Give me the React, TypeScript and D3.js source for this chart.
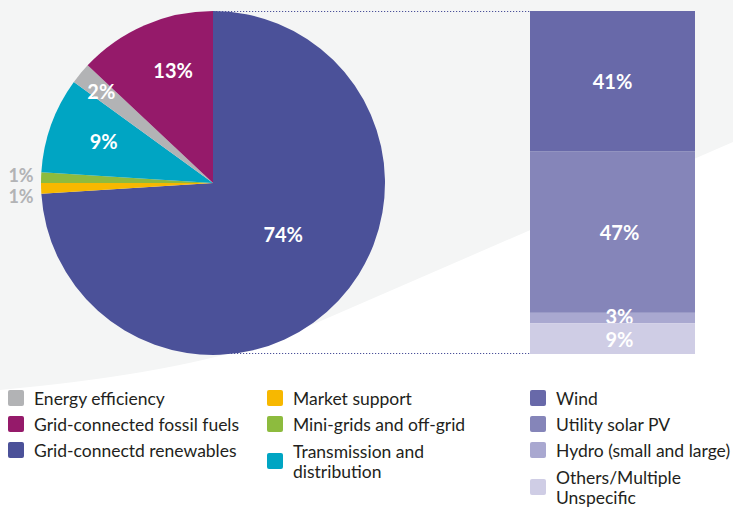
import React, { useRef, useEffect } from 'react';
import * as d3 from 'd3';

// pie: clockwise from 12 o'clock
const pieCategories = [
  'Grid-connectd renewables',
  'Market support',
  'Mini-grids and off-grid',
  'Transmission and distribution',
  'Energy efficiency',
  'Grid-connected fossil fuels',
];
const pieValues = [74, 1, 1, 9, 2, 13];
const pieColors = ['#4b5199', '#f7b800', '#8dbb3e', '#00a5c3', '#b2b3b5', '#951a6a'];

// breakdown of renewables, top to bottom
const barCategories = ['Wind', 'Utility solar PV', 'Hydro (small and large)', 'Others/Multiple Unspecific'];
const barValues = [41, 47, 3, 9];
const barColors = ['#6869a9', '#8585b9', '#a9a8d0', '#cfcde5'];

// legend columns
const legendCols = [
  ['Energy efficiency', 'Grid-connected fossil fuels', 'Grid-connectd renewables'],
  ['Market support', 'Mini-grids and off-grid', 'Transmission and distribution'],
  ['Wind', 'Utility solar PV', 'Hydro (small and large)', 'Others/Multiple Unspecific'],
];

const W = 733, H = 510;

export default function App() {
  const svgRef = useRef<SVGSVGElement>(null);

  useEffect(() => {
    const svg = d3.select(svgRef.current as SVGSVGElement);
    svg.selectAll('*').remove();

    const colorOf = (name: string) => {
      const i = pieCategories.indexOf(name);
      if (i >= 0) return pieColors[i];
      return barColors[barCategories.indexOf(name)];
    };

    // soft grey backdrop
    svg.append('path')
      .attr('d', 'M0,0 L733,0 L733,142 L300,330 Q200,372 0,390 Z')
      .attr('fill', '#f4f5f5');

    const cx = 213, cy = 183, r = 172;
    const barX = 530, barW = 165;
    const y = d3.scaleLinear().domain([0, 100]).range([11, 354]);

    // dotted connectors
    const dots = svg.append('g').attr('stroke', '#4b5199').attr('stroke-width', 1.2).attr('stroke-dasharray', '1.2,1.8');
    dots.append('line').attr('x1', cx).attr('x2', barX).attr('y1', y(0) + 0.5).attr('y2', y(0) + 0.5);
    dots.append('line').attr('x1', cx).attr('x2', barX).attr('y1', y(100) - 0.5).attr('y2', y(100) - 0.5);

    // pie
    const pie = d3.pie<number>().sort(null).value(d => d)(pieValues);
    const arc = d3.arc<d3.PieArcDatum<number>>().innerRadius(0).outerRadius(r);
    const g = svg.append('g').attr('transform', `translate(${cx},${cy})`);
    g.selectAll('path').data(pie).join('path')
      .attr('d', arc as any)
      .attr('fill', (_, i) => pieColors[i]);

    // label radius / angle nudge per slice (the 1% ones sit outside)
    const labelR = [87, 0, 0, 117, 145, 120];
    const labelShift = [-7, 0, 0, 1, 0, 4];
    pie.forEach((p, i) => {
      const txt = pieValues[i] + '%';
      const a = (p.startAngle + p.endAngle) / 2 + labelShift[i] * Math.PI / 180;
      let lx: number, ly: number, fill = '#fff', fs = 20;
      if (pieValues[i] <= 1) {
        lx = 21 - cx;
        ly = (i === 1 ? 196 : 175) - cy;
        fill = '#b2b3b5';
        fs = 18;
      } else {
        lx = Math.sin(a) * labelR[i];
        ly = -Math.cos(a) * labelR[i];
      }
      g.append('text')
        .attr('x', lx).attr('y', ly)
        .attr('text-anchor', 'middle').attr('dominant-baseline', 'central')
        .attr('font-family', 'Lato, sans-serif').attr('font-weight', 700).attr('font-size', fs)
        .attr('fill', fill)
        .text(txt);
    });

    // stacked bar
    let acc = 0;
    barValues.forEach((v, i) => {
      const y0 = y(acc), y1 = y(acc + v);
      acc += v;
      svg.append('rect')
        .attr('x', barX).attr('width', barW)
        .attr('y', y0).attr('height', y1 - y0)
        .attr('fill', barColors[i]);
      let ty = (y0 + y1) / 2;
      if (v < 5 && i === 2) ty -= 2;
      svg.append('text')
        .attr('x', barX + barW / 2 + (i === 0 ? 0 : 7)).attr('y', ty)
        .attr('text-anchor', 'middle').attr('dominant-baseline', 'central')
        .attr('font-family', 'Lato, sans-serif').attr('font-weight', 700).attr('font-size', 20)
        .attr('fill', '#fff')
        .text(v + '%');
    });

    // legend
    const colX = [8, 267, 530];
    const wrap: Record<string, string[]> = {
      'Transmission and distribution': ['Transmission and', 'distribution'],
      'Others/Multiple Unspecific': ['Others/Multiple', 'Unspecific'],
    };
    legendCols.forEach((col, ci) => {
      let rowY = 390;
      col.forEach(name => {
        const lines = wrap[name] || [name];
        const multi = lines.length > 1;
        const sqY = multi ? rowY + 11 : rowY;
        svg.append('rect')
          .attr('x', colX[ci]).attr('y', sqY).attr('width', 16).attr('height', 16).attr('rx', 2)
          .attr('fill', colorOf(name));
        lines.forEach((ln, li) => {
          svg.append('text')
            .attr('x', colX[ci] + 26)
            .attr('y', rowY + 8 + li * 20 + (multi ? 1 : 0))
            .attr('dominant-baseline', 'central')
            .attr('font-family', 'Lato, sans-serif').attr('font-size', 17.5)
            .attr('fill', '#231f20')
            .text(ln);
        });
        rowY += multi ? 46 : 26;
      });
    });
  }, []);

  return (
    <svg ref={svgRef} width={W} height={H}
      style={{ position: 'absolute', left: 0, top: 0, background: '#fff', display: 'block' }} />
  );
}
